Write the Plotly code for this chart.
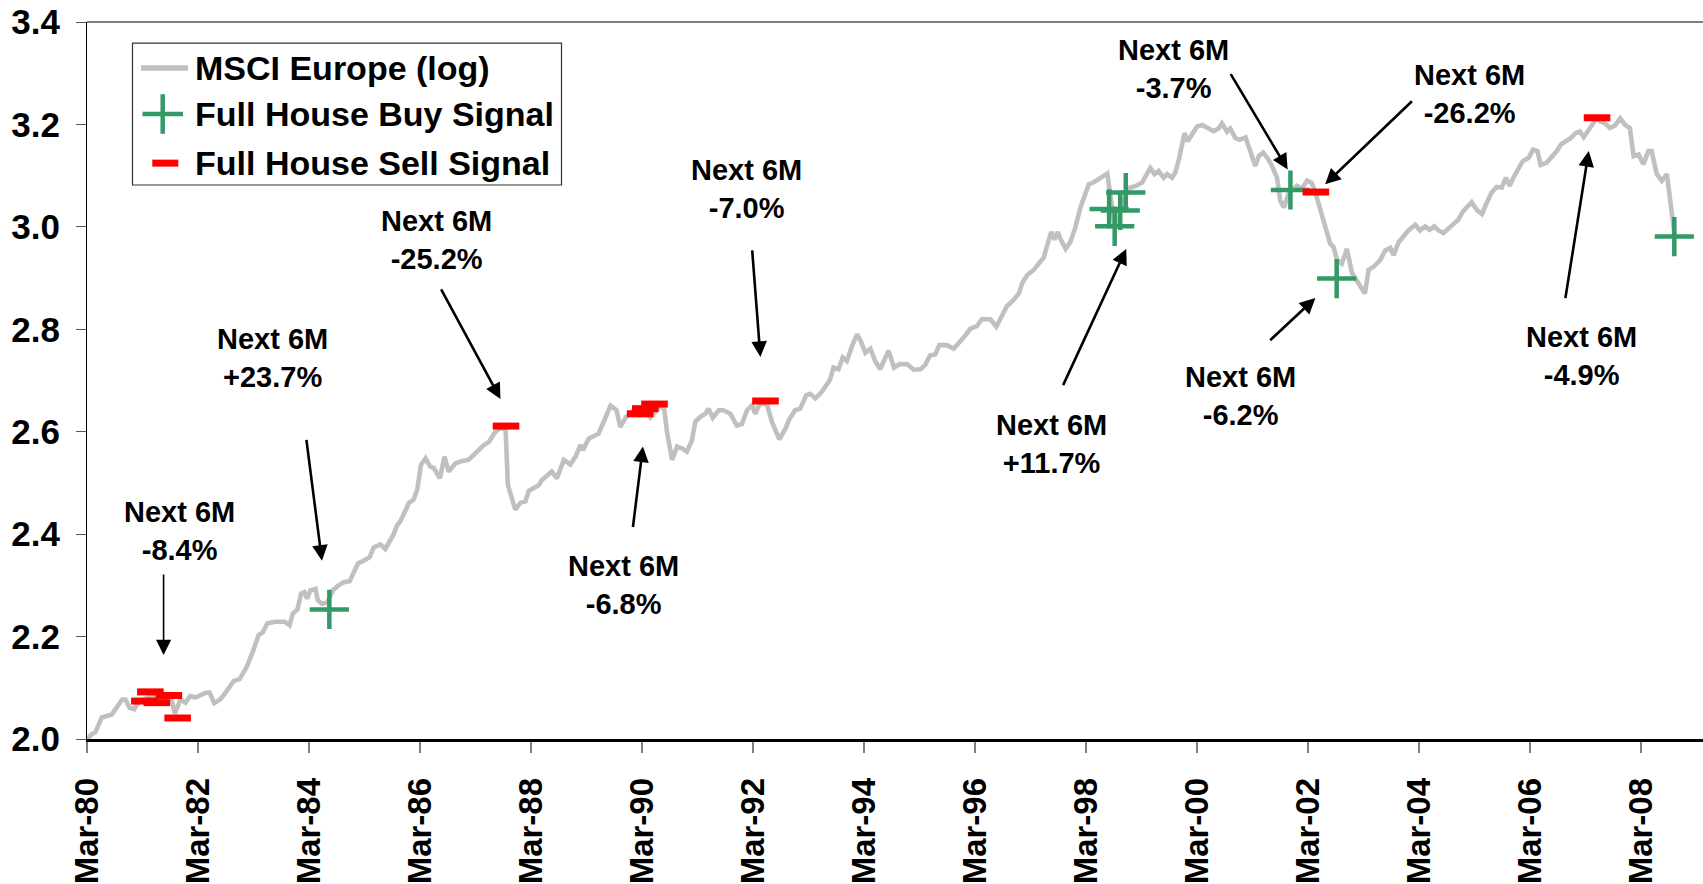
import plotly.graph_objects as go

# MSCI Europe index (log10), sampled at month offsets from Mar-1980
months = [
    0, 1.1, 1.8, 2.5, 3.2, 5.4, 6.6, 7.6, 8.3, 9.2, 10.2, 11.0, 12.5, 14.0, 15.5, 17.0, 18.3, 19.0,
    20.2, 21.3, 22.3, 23.4, 25.6, 26.5, 27.5, 28.8, 30.3, 31.7, 33.0, 34.6, 36.0, 37.1, 38.0, 39.0,
    40.7, 42.7, 43.8, 44.5, 45.5, 46.3, 47.0, 47.6, 48.3, 49.4, 49.9, 50.8, 51.9, 53.2, 54.4, 55.5,
    56.8, 57.8, 58.6, 59.8, 61.1, 62.0, 63.4, 64.5, 66.3, 67.0, 67.75, 68.8, 69.6, 70.6, 71.4, 72.2,
    73.2, 74.2, 75.0, 76.3, 77.3, 78.2, 79.6, 81.1, 82.5, 83.5, 84.7, 85.8, 86.9, 88.0, 89.0, 90.5,
    91.0, 92.6, 93.7, 94.8, 95.5, 96.6, 97.7, 98.4, 99.5, 100.5, 101.6, 103.1, 104.5, 105.6, 106.7,
    107.2, 108.5, 109.6, 110.6, 111.7, 113.2, 114.5, 115.3, 116.5, 118.0, 119.5, 120.8, 121.8, 123.5,
    124.7, 125.4, 126.5, 127.6, 128.7, 129.7, 130.8, 131.5, 132.6, 133.7, 134.4, 135.3, 136.6, 137.6,
    139.1, 140.5, 141.6, 142.7, 143.8, 144.5, 145.4, 147.0, 148.1, 149.7, 151.0, 151.9, 153.1, 154.2,
    155.5, 156.4, 157.5, 158.7, 159.8, 160.7, 161.4, 162.5, 163.4, 164.3, 165.4, 166.5, 167.3, 168.3,
    169.4, 170.4, 171.5, 172.6, 173.3, 174.5, 175.7, 177.3, 178.7, 180.2, 181.2, 182.3, 183.4, 184.3,
    185.9, 187.4, 188.7, 189.9, 191.0, 192.4, 193.5, 194.6, 195.4, 196.6, 197.8, 198.9, 200.4, 201.5,
    202.2, 203.3, 204.7, 205.8, 206.9, 207.6, 208.5, 209.2, 209.9, 210.6, 211.6, 212.6, 213.7, 214.8,
    215.9, 216.6, 217.7, 219.1, 220.6, 221.3, 222.3, 223.3, 224.5, 225.6, 226.8, 228.1, 229.2, 229.9,
    230.8, 231.7, 232.8, 233.5, 234.6, 235.3, 236.1, 236.8, 237.3, 238.0, 238.9, 240.0, 241.1, 242.2,
    243.6, 244.7, 245.4, 246.5, 247.2, 248.3, 249.2, 250.5, 251.4, 252.6, 253.4, 254.3, 255.2, 256.2,
    257.3, 258.0, 258.8, 259.8, 261.6, 262.7, 263.8, 264.8, 265.5, 267.0, 268.1, 268.8, 269.5, 270.3,
    271.3, 272.4, 273.5, 274.9, 276.3, 277.1, 278.2, 279.6, 280.7, 281.8, 282.5, 283.6, 284.6, 285.7,
    287.2, 288.2, 289.3, 290.3, 291.3, 292.2, 293.3, 294.4, 295.5, 296.5, 297.5, 298.3, 299.4, 300.5,
    301.6, 302.7, 303.7, 304.8, 305.9, 306.8, 307.6, 308.4, 309.5, 310.4, 311.7, 312.7, 313.6, 314.3,
    315.6, 316.7, 317.8, 318.7, 319.8, 320.8, 321.8, 322.8, 323.6, 324.4, 325.4, 326.4, 327.2, 328.2,
    329.3, 330.4, 331.5, 332.6, 333.6, 334.4, 335.5, 336.5, 337.6, 338.3, 339.4, 340.5, 341.6, 342.3,
    343.0, 343.3,
]
msci_log = [
    2.000, 2.010, 2.013, 2.030, 2.042, 2.048, 2.064, 2.077, 2.077, 2.061, 2.058, 2.070, 2.078, 2.085,
    2.078, 2.083, 2.075, 2.050, 2.077, 2.071, 2.084, 2.081, 2.090, 2.091, 2.070, 2.077, 2.095, 2.113,
    2.117, 2.142, 2.174, 2.203, 2.208, 2.226, 2.229, 2.229, 2.222, 2.245, 2.253, 2.284, 2.287, 2.274,
    2.290, 2.293, 2.271, 2.264, 2.266, 2.291, 2.300, 2.306, 2.308, 2.329, 2.343, 2.348, 2.355, 2.374,
    2.380, 2.371, 2.400, 2.416, 2.425, 2.445, 2.461, 2.467, 2.487, 2.535, 2.548, 2.532, 2.529, 2.509,
    2.551, 2.522, 2.538, 2.543, 2.545, 2.554, 2.564, 2.574, 2.580, 2.596, 2.606, 2.606, 2.496, 2.448,
    2.461, 2.464, 2.484, 2.490, 2.496, 2.506, 2.516, 2.522, 2.509, 2.545, 2.536, 2.551, 2.574, 2.564,
    2.587, 2.593, 2.596, 2.619, 2.651, 2.642, 2.609, 2.628, 2.640, 2.632, 2.640, 2.628, 2.645, 2.651,
    2.600, 2.545, 2.571, 2.567, 2.561, 2.583, 2.619, 2.629, 2.635, 2.645, 2.627, 2.642, 2.642, 2.635,
    2.612, 2.615, 2.642, 2.652, 2.635, 2.654, 2.654, 2.619, 2.585, 2.606, 2.625, 2.642, 2.645, 2.671,
    2.674, 2.665, 2.676, 2.690, 2.703, 2.725, 2.722, 2.745, 2.738, 2.767, 2.790, 2.777, 2.754, 2.762,
    2.738, 2.722, 2.745, 2.758, 2.725, 2.732, 2.732, 2.721, 2.722, 2.730, 2.749, 2.751, 2.769, 2.769,
    2.762, 2.774, 2.788, 2.801, 2.806, 2.820, 2.819, 2.819, 2.805, 2.825, 2.845, 2.858, 2.870, 2.890,
    2.906, 2.916, 2.928, 2.941, 2.964, 2.990, 2.975, 2.990, 2.974, 2.957, 2.970, 2.999, 3.038, 3.064,
    3.083, 3.087, 3.096, 3.104, 3.060, 3.000, 3.030, 3.060, 3.077, 3.080, 3.086, 3.106, 3.115, 3.103,
    3.109, 3.096, 3.103, 3.096, 3.106, 3.132, 3.160, 3.183, 3.167, 3.180, 3.196, 3.199, 3.194, 3.187,
    3.192, 3.202, 3.186, 3.192, 3.173, 3.170, 3.175, 3.148, 3.119, 3.139, 3.145, 3.135, 3.119, 3.096,
    3.051, 3.038, 3.065, 3.080, 3.075, 3.090, 3.086, 3.070, 3.025, 2.986, 2.967, 2.961, 2.935, 2.928,
    2.957, 2.910, 2.890, 2.870, 2.916, 2.922, 2.935, 2.954, 2.959, 2.945, 2.970, 2.980, 2.993, 3.004,
    2.993, 3.001, 2.994, 3.001, 2.993, 2.988, 2.996, 3.006, 3.014, 3.030, 3.038, 3.048, 3.033, 3.025,
    3.048, 3.067, 3.078, 3.077, 3.096, 3.080, 3.096, 3.112, 3.128, 3.135, 3.151, 3.148, 3.121, 3.125,
    3.135, 3.148, 3.161, 3.166, 3.173, 3.183, 3.186, 3.175, 3.186, 3.202, 3.212, 3.206, 3.202, 3.193,
    3.198, 3.212, 3.199, 3.193, 3.138, 3.141, 3.122, 3.148, 3.148, 3.103, 3.090, 3.103, 3.051, 3.012,
    2.981,
]

# Full House signals
buy_months = [52.4, 221.0, 222.2, 223.4, 224.6, 260.2, 270.2, 343.2]
buy_values = [2.253, 3.035, 3.001, 3.032, 3.067, 3.072, 2.899, 2.981]

sell_months = [12.4, 13.7, 15.1, 17.7, 19.6, 90.6, 119.6, 120.7, 122.7, 146.7, 265.7, 326.5]
sell_values = [2.074, 2.092, 2.071, 2.085, 2.041, 2.611, 2.635, 2.645, 2.654, 2.660, 3.068, 3.213]

tick_months = list(range(0, 337, 24))
tick_labels = ["Mar-80", "Mar-82", "Mar-84", "Mar-86", "Mar-88", "Mar-90", "Mar-92", "Mar-94",
               "Mar-96", "Mar-98", "Mar-00", "Mar-02", "Mar-04", "Mar-06", "Mar-08"]

# Subsequent six-month index returns after each highlighted signal
next6m_returns = ["-8.4%", "+23.7%", "-25.2%", "-6.8%", "-7.0%",
                  "+11.7%", "-3.7%", "-26.2%", "-6.2%", "-4.9%"]

W, H = 1703, 884
L, R, T, B = 87, 0, 22, 137
PW, PH = W - L - R, H - T - B
FONT = "Liberation Sans, Arial, sans-serif"
GREEN = "#339966"
RED = "#FF0000"
GREY = "#C0C0C0"


def px(xp):
    return (xp - L) / PW


def py(yp):
    return (T + PH - yp) / PH


fig = go.Figure()
fig.add_trace(go.Scatter(x=months, y=msci_log, mode="lines",
                         line=dict(color=GREY, width=4.6), name="MSCI Europe (log)",
                         showlegend=False, hoverinfo="skip"))
fig.add_trace(go.Scatter(x=buy_months, y=buy_values, mode="markers",
                         marker=dict(symbol="cross-thin", size=28, color=GREEN,
                                     line=dict(color=GREEN, width=4.5)),
                         name="Full House Buy Signal", showlegend=False, cliponaxis=False))
fig.add_trace(go.Scatter(x=sell_months, y=sell_values, mode="markers",
                         marker=dict(symbol="line-ew", size=19, color=RED,
                                     line=dict(color=RED, width=7)),
                         name="Full House Sell Signal", showlegend=False, cliponaxis=False))

# text blocks (centre, in axis units) and arrows (tail -> head, in axis units)
label_pos = [(19.95, 2.406), (40.0, 2.744), (75.65, 2.974), (116.0, 2.300), (142.6, 3.074),
             (208.6, 2.576), (234.9, 3.308), (299.0, 3.259), (249.4, 2.670), (323.2, 2.747)]
arrow_pos = [((16.56, 2.324), (16.56, 2.164)), ((47.4, 2.587), (50.8, 2.348)),
             ((76.4, 2.881), (89.4, 2.664)), ((118.0, 2.411), (120.2, 2.571)),
             ((143.8, 2.957), (145.6, 2.746)), ((210.9, 2.688), (224.7, 2.957)),
             ((247.1, 3.301), (259.6, 3.112)), ((286.8, 3.248), (267.7, 3.083)),
             ((255.5, 2.776), (265.6, 2.861)), ((319.6, 2.858), (324.7, 3.148))]

annotations = []
for (lx, ly), ret in zip(label_pos, next6m_returns):
    annotations.append(dict(x=lx, y=ly, xref="x", yref="y", text="Next 6M<br>" + ret,
                            showarrow=False, xanchor="center", yanchor="middle",
                            font=dict(family=FONT, size=29, color="black", weight="bold")))
for i, ((tx, ty), (hx, hy)) in enumerate(arrow_pos):
    annotations.append(dict(x=hx, y=hy, xref="x", yref="y", ax=tx, ay=ty, axref="x", ayref="y",
                            text="", showarrow=True, arrowhead=2,
                            arrowwidth=1.6 if i == 0 else 2.6,
                            arrowsize=1.9 if i == 0 else 1.2,
                            arrowcolor="black", standoff=0))

# legend box drawn by hand
shapes = [
    dict(type="line", xref="paper", yref="paper", x0=0, x1=1, y0=1, y1=1,
         line=dict(color="black", width=1)),
    dict(type="rect", xref="paper", yref="paper", x0=px(132.5), x1=px(561.5),
         y0=py(186.8), y1=py(43.4), line=dict(color="#333333", width=1.2),
         fillcolor="white", layer="above"),
    dict(type="line", xref="paper", yref="paper", x0=px(141), x1=px(188), y0=py(68.5),
         y1=py(68.5), line=dict(color=GREY, width=5.5), layer="above"),
    dict(type="line", xref="paper", yref="paper", x0=px(142.5), x1=px(183), y0=py(115),
         y1=py(115), line=dict(color=GREEN, width=4.5), layer="above"),
    dict(type="line", xref="paper", yref="paper", x0=px(162.7), x1=px(162.7), y0=py(95),
         y1=py(135), line=dict(color=GREEN, width=4.5), layer="above"),
    dict(type="line", xref="paper", yref="paper", x0=px(152.3), x1=px(178.3), y0=py(164.7),
         y1=py(164.7), line=dict(color=RED, width=7), layer="above"),
]
legend_rows = [("MSCI Europe (log)", 68.5), ("Full House Buy Signal", 115),
               ("Full House Sell Signal", 164.7)]
for txt, yy in legend_rows:
    annotations.append(dict(x=px(193), y=py(yy), xref="paper", yref="paper", text=txt,
                            showarrow=False, xanchor="left", yanchor="middle",
                            font=dict(family=FONT, size=34, color="black", weight="bold")))

fig.update_layout(
    width=W, height=H, margin=dict(l=L, r=R, t=T, b=B, pad=0),
    paper_bgcolor="white", plot_bgcolor="white", showlegend=False,
    annotations=annotations, shapes=shapes,
    xaxis=dict(range=[0, PW / 4.625], tickmode="array", tickvals=tick_months,
               ticktext=tick_labels, tickangle=-90, ticks="outside", ticklen=11,
               tickcolor="#808080", tickwidth=1.5, showgrid=False, zeroline=False,
               showline=True, linecolor="black", linewidth=2.5, ticklabelstandoff=12,
               tickfont=dict(family=FONT, size=33, color="black", weight="bold")),
    yaxis=dict(range=[2.0, 3.4], tickmode="array", tickvals=[2.0, 2.2, 2.4, 2.6, 2.8, 3.0, 3.2, 3.4],
               ticktext=["2.0", "2.2", "2.4", "2.6", "2.8", "3.0", "3.2", "3.4"],
               ticks="outside", ticklen=10, tickcolor="#555555", tickwidth=1.2,
               showgrid=False, zeroline=False, showline=True, linecolor="black", linewidth=1,
               ticklabelstandoff=9,
               tickfont=dict(family=FONT, size=35, color="black", weight="bold")),
)

fig.write_html("out.html")
